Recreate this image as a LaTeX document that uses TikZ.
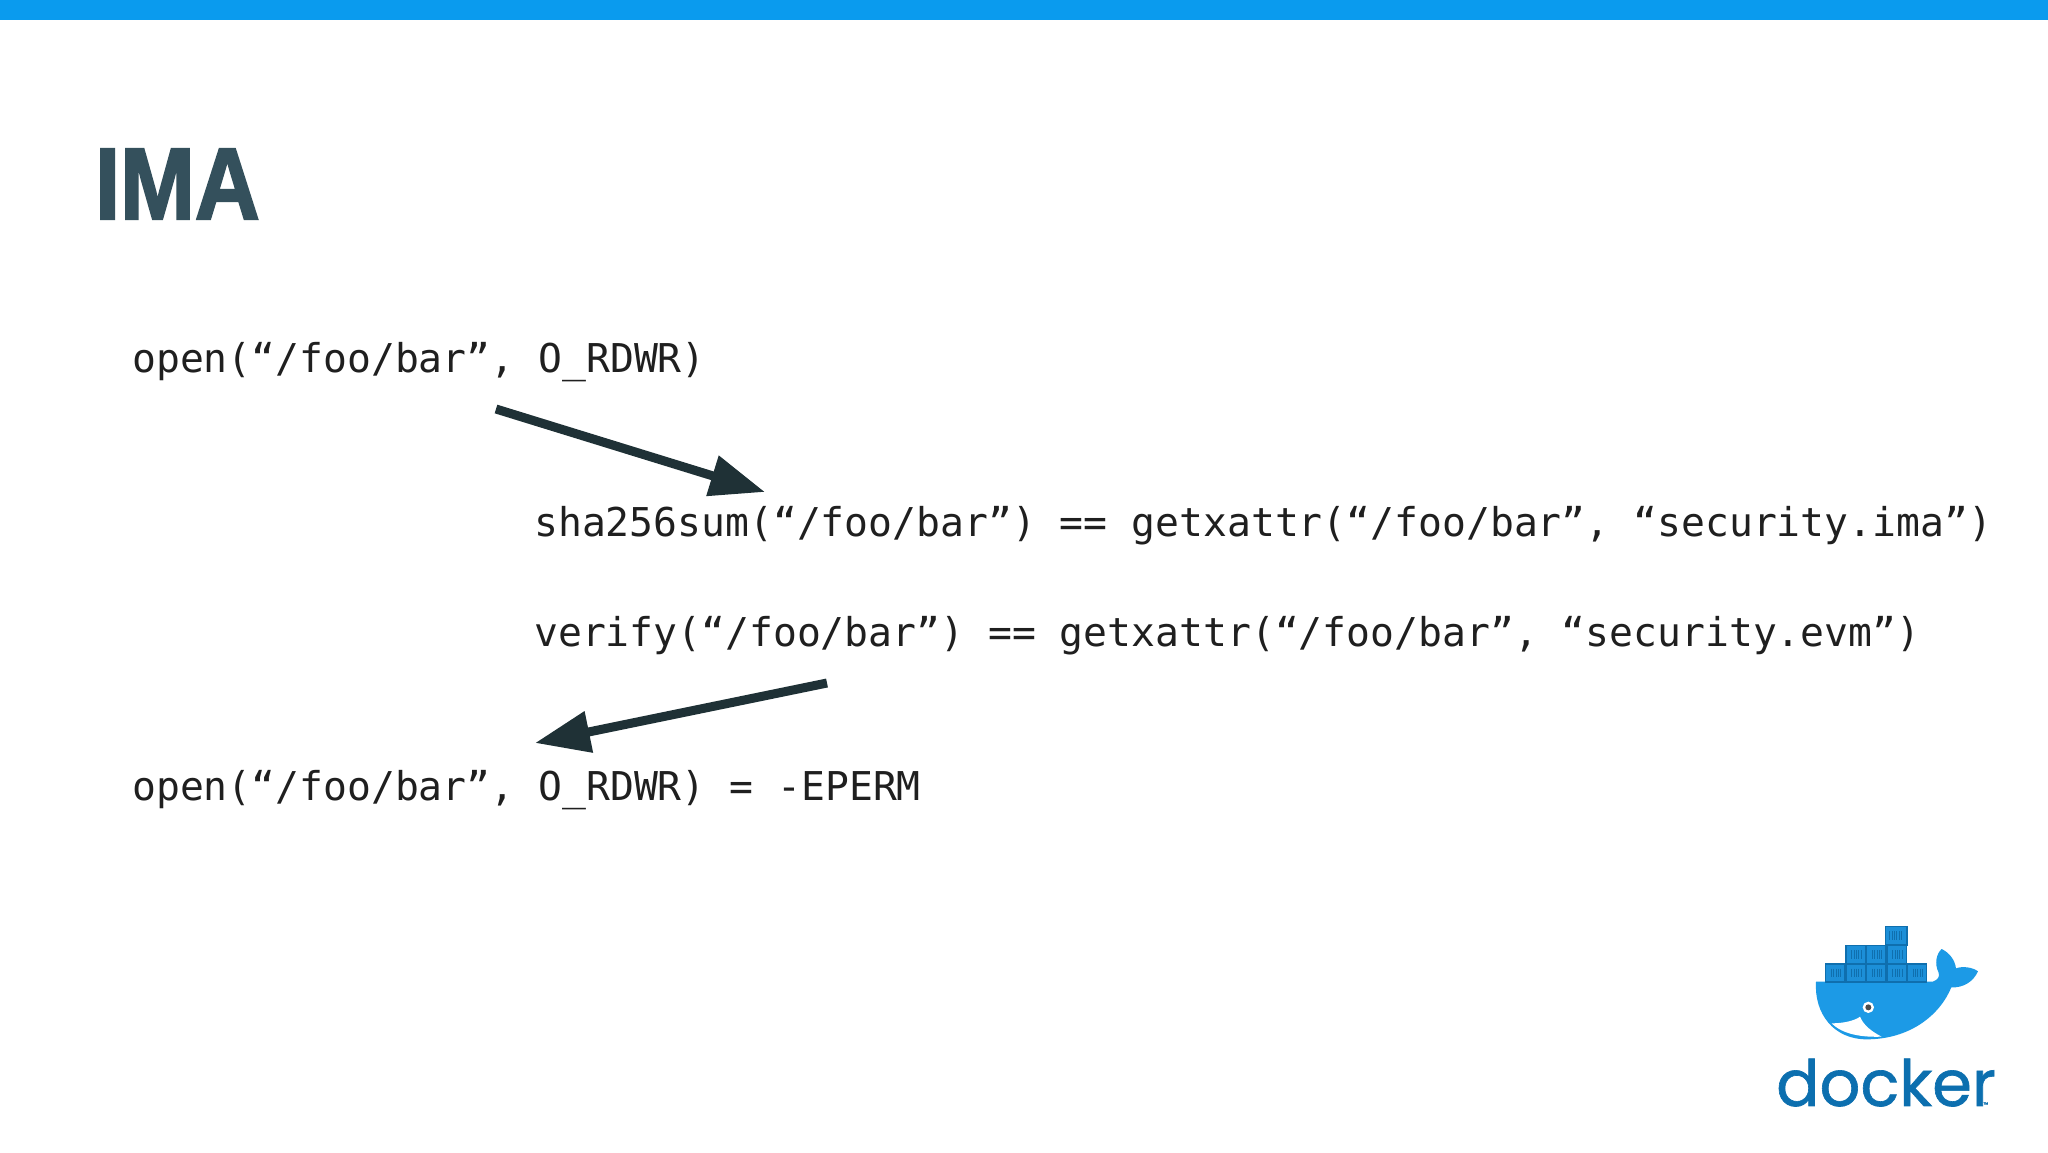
\documentclass[tikz,border=0pt]{standalone}
\usepackage{fontspec}
\usetikzlibrary{arrows.meta}
\setmonofont{DejaVu Sans Mono}
\newfontfamily\titlefont[FakeStretch=0.88,FakeBold=2]{Liberation Sans}
\newfontfamily\logofont[FakeBold=1]{Poppins}
\definecolor{topbar}{HTML}{0A9BEE}
\definecolor{titlecol}{HTML}{34505C}
\definecolor{arrowcol}{HTML}{1F3136}
\definecolor{whale}{HTML}{1C9AE6}
\definecolor{boxfill}{HTML}{1C8FD8}
\definecolor{boxline}{HTML}{0F6FAE}
\definecolor{logotext}{HTML}{0C6FAF}
\tikzset{
  code/.style={font=\ttfamily\fontsize{39.7}{44}\selectfont,anchor=base west,inner sep=0pt,text=black!88},
  bigarrow/.style={arrowcol,line width=9pt,-{Triangle[length=55pt,width=40pt]}},
  cbox/.style={fill=boxfill,draw=boxline,line width=1.4pt},
  cstripe/.style={draw=boxline,line width=.7pt}
}
\begin{document}
\begin{tikzpicture}[x=1pt,y=-1pt]
\useasboundingbox (0,0) rectangle (2048,1152);
\fill[white] (0,0) rectangle (2048,1152);
\fill[topbar] (0,0) rectangle (2048,20);
\node[anchor=base west,inner sep=0pt,text=titlecol] (title) at (95,219) {\titlefont\bfseries\fontsize{102}{110}\selectfont IMA};
\node[code] (l1) at (132,372) {open(“/foo/bar”, O\_RDWR)};
\node[code] (l2) at (534,536) {sha256sum(“/foo/bar”) == getxattr(“/foo/bar”, “security.ima”)};
\node[code] (l3) at (534,646) {verify(“/foo/bar”) == getxattr(“/foo/bar”, “security.evm”)};
\node[code] (l4) at (132,800) {open(“/foo/bar”, O\_RDWR) = -EPERM};
\coordinate (a1s) at (496,409);
\coordinate (a1e) at (765,492);
\coordinate (a2s) at (827,683);
\coordinate (a2e) at (535,743);
\draw[bigarrow] (a1s) -- (a1e);
\draw[bigarrow] (a2s) -- (a2e);
\begin{scope}[shift={(1740,900)},x=0.3333pt,y=-0.3333pt]
\fill[whale] (228,245) -- (578,245)
  .. controls (592,240) and (600,232) .. (596,218)
  .. controls (582,190) and (590,160) .. (605,147)
  .. controls (628,158) and (645,180) .. (648,205)
  .. controls (670,197) and (700,203) .. (714,214)
  .. controls (700,245) and (670,264) .. (634,262)
  .. controls (600,345) and (510,418) .. (380,418)
  .. controls (280,418) and (222,340) .. (228,245) -- cycle;
\fill[white] (275,370) .. controls (310,370) and (345,362) .. (360,350)
  .. controls (370,375) and (395,395) .. (425,410)
  .. controls (370,412) and (310,405) .. (275,370) -- cycle;
\fill[white] (385,322) circle (17);
\fill[black!70] (385,322) circle (9);
\foreach \cx/\cy in {257/192,318/192,380/192,441/192,502/192,318/137,380/137,441/137}{
  \draw[cbox] (\cx,\cy) rectangle ++(58,54);
  \foreach \dx in {17,24,31,38,45}{
    \draw[cstripe] (\cx+\dx,\cy+14) -- (\cx+\dx,\cy+40);
  }
}
\draw[cbox] (437,80) rectangle (501,135);
\foreach \dx in {449,456,463,470,477,484}{\draw[cstripe] (\dx,94) -- (\dx,121);}
\node[anchor=base west,inner sep=0pt,text=logotext] (brand) at (108,618) {\logofont\fontsize{64}{70}\selectfont docker};
\node[anchor=base west,inner sep=0pt,text=logotext] (tm) at (730,620) {\logofont\fontsize{6}{7}\selectfont ™};
\end{scope}
\end{tikzpicture}
\end{document}
